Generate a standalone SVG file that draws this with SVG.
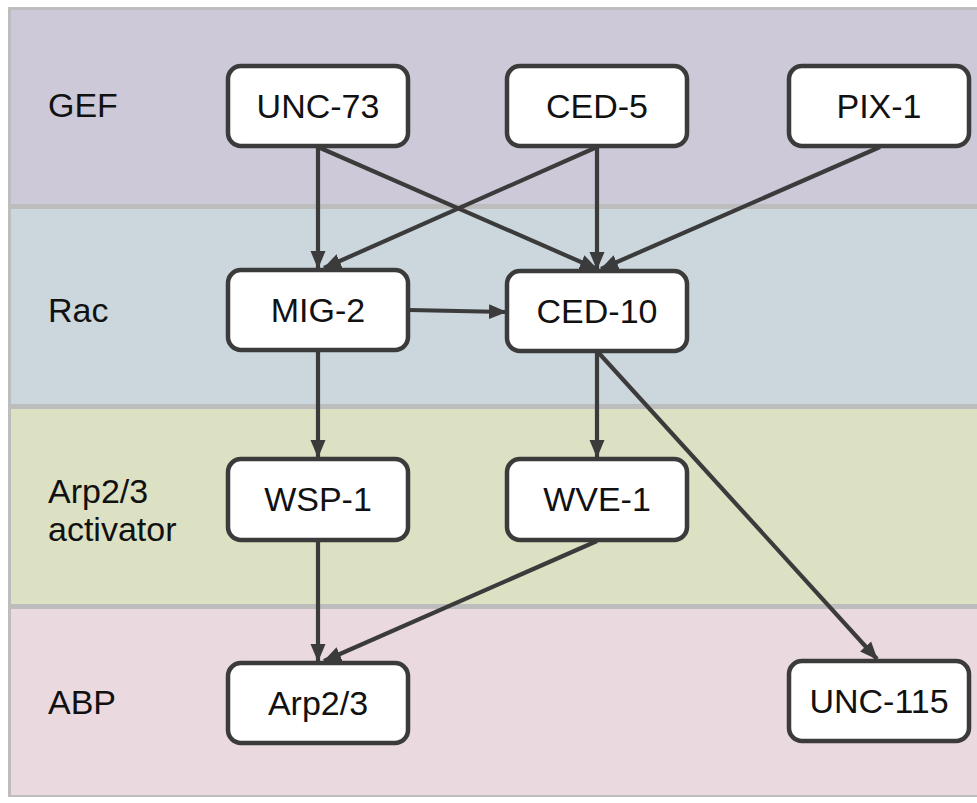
<svg xmlns="http://www.w3.org/2000/svg" width="977" height="803" viewBox="0 0 977 803">
<style>
.lbl{font-family:"Liberation Sans",Arial,sans-serif;font-size:34px;fill:#111}
.node rect{fill:#fff;stroke:#3b3b3b;stroke-width:4.5}
.node text{font-family:"Liberation Sans",Arial,sans-serif;font-size:34px;fill:#111;text-anchor:middle}
.edges line{stroke:#3b3b3b;stroke-width:4.2;marker-end:url(#ah)}
</style>
<defs>
<marker id="ah" markerUnits="userSpaceOnUse" markerWidth="18" markerHeight="18" viewBox="0 0 18 18" refX="17" refY="9" orient="auto">
<path d="M0,1.5 L18,9 L0,16.5 Z" fill="#3b3b3b"/>
</marker>
</defs>
<rect x="0" y="0" width="977" height="803" fill="#fff"/>
<g id="bands">
<rect x="8" y="7" width="975" height="790" fill="#bdbdbd"/>
<rect x="11" y="10" width="970" height="194" fill="#cdc9d9"/>
<rect x="11" y="209" width="970" height="195" fill="#cbd7dc"/>
<rect x="11" y="409" width="970" height="195" fill="#dbe1c2"/>
<rect x="11" y="609" width="970" height="186" fill="#eadadf"/>
</g>
<g id="labels">
<text class="lbl" x="48" y="117">GEF</text>
<text class="lbl" x="48" y="322">Rac</text>
<text class="lbl" x="48" y="503">Arp2/3</text>
<text class="lbl" x="48" y="541">activator</text>
<text class="lbl" x="48" y="714">ABP</text>
</g>
<g id="connectors" class="edges">
<line x1="318" y1="147" x2="318" y2="268"/>
<line x1="318" y1="147" x2="597" y2="269"/>
<line x1="597" y1="147" x2="324" y2="268"/>
<line x1="597" y1="147" x2="597" y2="269"/>
<line x1="880" y1="147" x2="601" y2="269"/>
<line x1="409" y1="310" x2="506" y2="312"/>
<line x1="318" y1="351" x2="318" y2="457"/>
<line x1="597" y1="351" x2="597" y2="457"/>
<line x1="597" y1="351" x2="877" y2="659"/>
<line x1="318" y1="541" x2="318" y2="661"/>
<line x1="597" y1="541" x2="324" y2="661"/>
</g>
<g id="n-unc73" class="node"><rect x="228" y="66" width="180" height="80" rx="13"/><text x="318" y="118">UNC-73</text></g>
<g id="n-ced5" class="node"><rect x="507" y="66" width="180" height="80" rx="13"/><text x="597" y="118">CED-5</text></g>
<g id="n-pix1" class="node"><rect x="789" y="66" width="180" height="80" rx="13"/><text x="879" y="118">PIX-1</text></g>
<g id="n-mig2" class="node"><rect x="228" y="270" width="180" height="80" rx="13"/><text x="318" y="322">MIG-2</text></g>
<g id="n-ced10" class="node"><rect x="507" y="271" width="180" height="80" rx="13"/><text x="597" y="323">CED-10</text></g>
<g id="n-wsp1" class="node"><rect x="228" y="459" width="180" height="81" rx="13"/><text x="318" y="511">WSP-1</text></g>
<g id="n-wve1" class="node"><rect x="507" y="459" width="180" height="81" rx="13"/><text x="597" y="511">WVE-1</text></g>
<g id="n-arp23" class="node"><rect x="228" y="663" width="180" height="80" rx="13"/><text x="318" y="715">Arp2/3</text></g>
<g id="n-unc115" class="node"><rect x="789" y="661" width="180" height="80" rx="13"/><text x="879" y="713">UNC-115</text></g>
</svg>
